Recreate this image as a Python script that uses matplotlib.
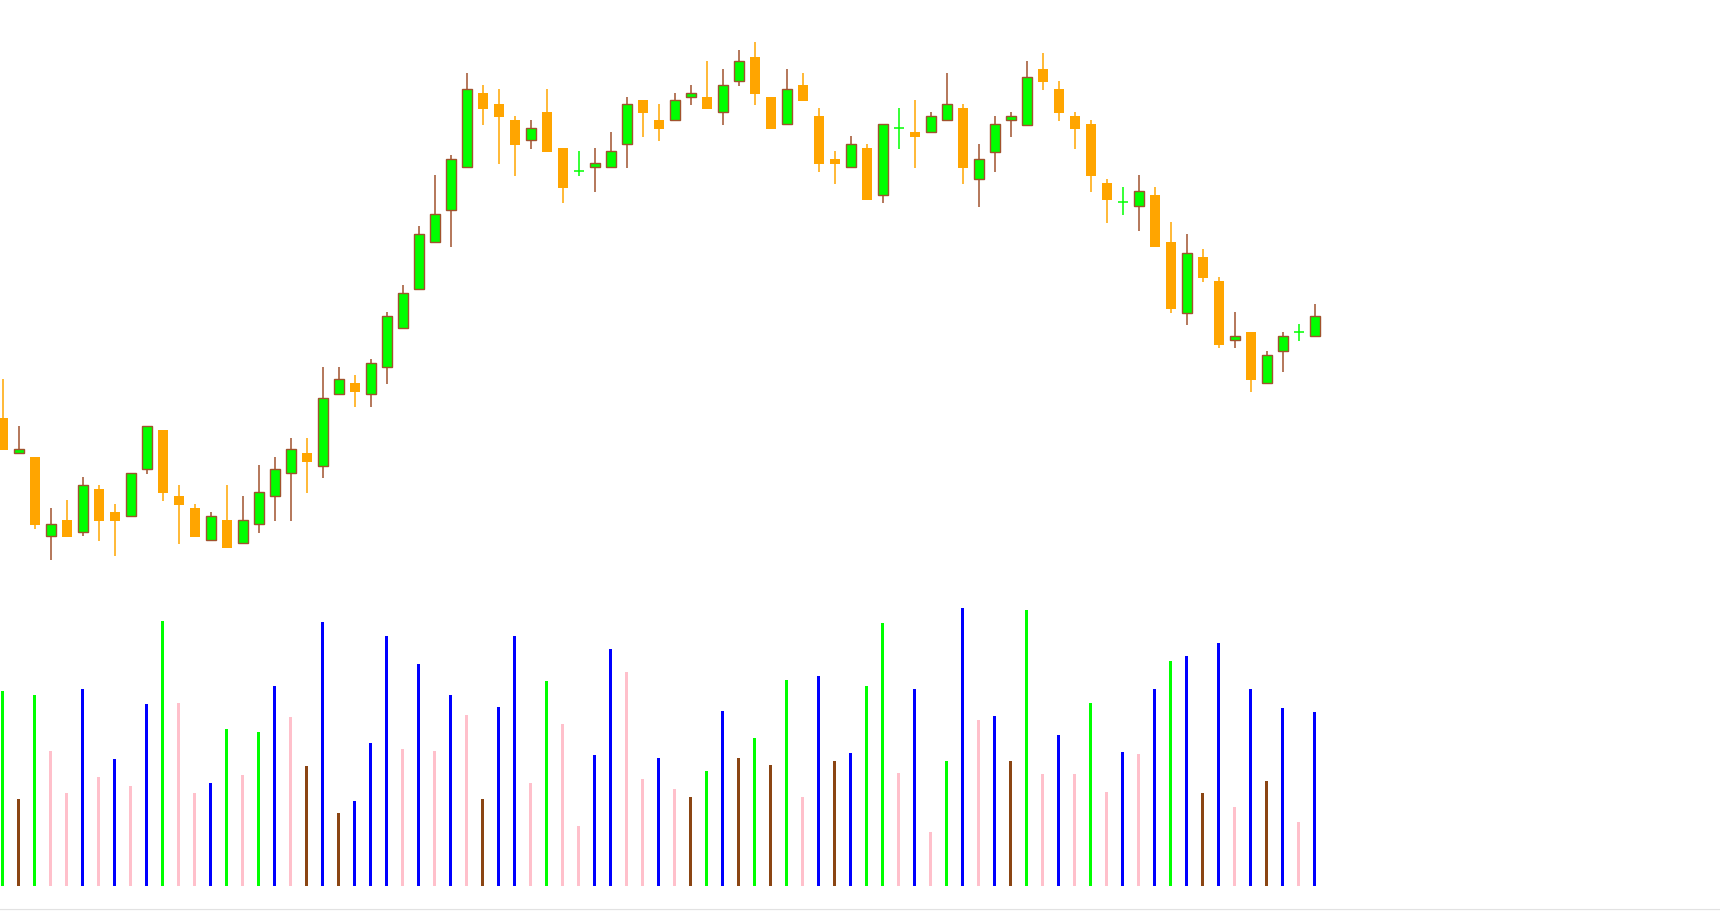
import matplotlib
matplotlib.use("Agg")
import matplotlib.pyplot as plt
from matplotlib.patches import Rectangle
from matplotlib.lines import Line2D

# ---- data (price units are arbitrary; no axis is shown) ----
opens = [181, 145.7, 142, 62.7, 79, 66.7, 110, 87, 82.7, 129.7,
         169, 103, 91, 58.7, 79, 55.7, 74.7, 102.7, 125.7, 146,
         133.3, 204.7, 216, 204.7, 231.7, 270.7, 309.7, 356.7, 388.7, 431.7,
         506, 495, 479, 458.7, 487, 451, 427.7, 431.7, 431.7, 454.7,
         499, 479, 478.7, 501.7, 502, 486.7, 517.7, 542, 502, 474.7,
         514, 483, 440, 431.7, 451, 403.7, 470.7, 467, 466.7, 478.7,
         491, 419.7, 447.3, 478.7, 474.3, 530, 510, 483, 475, 416,
         396.7, 392.7, 404, 357, 286.3, 342, 318, 258.7, 267, 215.7,
         247.7, 266.7, 262.7]
highs = [220, 173, 142, 91, 99, 122, 114, 95, 125.7, 172.7,
         169, 114, 95, 87, 114, 103, 134, 142, 161, 161,
         232, 232, 224, 240, 287, 314, 373, 424, 443.7, 526,
         514, 510, 483, 479, 510, 451, 448, 451, 467, 502,
         499, 495, 506, 514, 538, 530, 549, 557, 502, 530,
         526, 491, 448, 463, 454.7, 474.7, 491, 499, 487, 526,
         495, 455, 483, 487, 538, 546, 518, 487, 479, 420,
         412, 424, 412, 377, 365, 350, 322, 287, 267, 248,
         267, 275, 295]
lows = [149.3, 145.7, 70.3, 39.3, 62.3, 62.7, 58.3, 43.3, 82.7, 125.3,
        98.3, 55.3, 62.3, 58.7, 51.3, 55.7, 66.3, 78, 78, 106,
        121.3, 204.7, 192.3, 192.3, 215.3, 270.7, 309.7, 356.7, 352.3, 431.7,
        474.3, 435.3, 423.3, 450.3, 447.3, 396.3, 423.3, 407.3, 431.7, 431.3,
        462.3, 458.3, 478.7, 494.3, 490.3, 474.3, 513.3, 494.3, 470.3, 474.7,
        498.3, 427.3, 415.3, 431.7, 399.3, 396.3, 450.3, 431.3, 466.7, 478.7,
        415.3, 392.3, 427.3, 462.3, 474.3, 509.3, 478.3, 450.3, 407.3, 376.3,
        384.3, 368.3, 352.3, 286.3, 274.3, 317.3, 251.3, 251.3, 207.3, 215.7,
        227.3, 258.3, 262.7]
closes = [149.3, 149.7, 74.3, 75, 62.3, 113.7, 78.3, 78.3, 125.7, 172.7,
          106.3, 94.3, 62.3, 82.7, 51.3, 78.7, 106.7, 129.7, 149.7, 137.3,
          200.7, 219.7, 207.3, 235.7, 282.7, 305.7, 364.7, 384.7, 439.7, 509.7,
          490.3, 482.3, 454.3, 470.7, 447.3, 411.3, 427.7, 435.7, 447.7, 494.7,
          486.3, 470.3, 499, 505.7, 490.3, 513.7, 537.7, 505.3, 470.3, 509.7,
          498.3, 435.3, 435.3, 454.7, 399.3, 474.7, 470.7, 462.3, 482.7, 494.7,
          431.3, 439.7, 474.7, 482.7, 521.7, 517.3, 486.3, 470.3, 423.3, 399.3,
          396.7, 407.7, 352.3, 290.3, 345.7, 321.3, 254.3, 262.7, 219.3, 243.7,
          262.7, 266.7, 282.7]

volumes = [195, 87, 191, 135, 93, 197, 109, 127, 100, 182,
           265, 183, 93, 103, 157, 111, 154, 200, 169, 120,
           264, 73, 85, 143, 250, 137, 222, 135, 191, 171,
           87, 179, 250, 103, 205, 162, 60, 131, 237, 214,
           107, 128, 97, 89, 115, 175, 128, 148, 121, 206,
           89, 210, 125, 133, 200, 263, 113, 197, 54, 125,
           278, 166, 170, 125, 276, 112, 151, 112, 183, 94,
           134, 132, 197, 225, 230, 93, 243, 79, 197, 105,
           178, 64, 174]
volume_kind = ["G", "Br", "G", "P", "P", "B", "P", "B", "P", "B",
               "G", "P", "P", "B", "G", "P", "G", "B", "P", "Br",
               "B", "Br", "B", "B", "B", "P", "B", "P", "B", "P",
               "Br", "B", "B", "P", "G", "P", "P", "B", "B", "P",
               "P", "B", "P", "Br", "G", "B", "Br", "G", "Br", "G",
               "P", "B", "Br", "B", "G", "G", "P", "B", "P", "G",
               "B", "P", "B", "Br", "G", "P", "B", "P", "G", "P",
               "B", "P", "B", "G", "B", "Br", "B", "P", "B", "Br",
               "B", "P", "B"]
volume_colors = {"G": "#00FF00", "Br": "#8B4513", "P": "#FFC0CB", "B": "#0000FF"}

BULL = "#00FF00"
BEAR = "#FFA500"
EDGE = "#A0522D"

W, H, DPI = 1720, 912, 100
fig = plt.figure(figsize=(W / DPI, H / DPI), dpi=DPI)
fig.patch.set_facecolor("white")

spacing = 16.0
x0 = 2.7
xl = (-x0 / spacing, (W - x0) / spacing)

# price panel: figure pixel rows 0..600
ax = fig.add_axes([0, (H - 600) / H, 1, 600 / H])
ax.set_xlim(*xl)
ax.set_ylim(0, 600)
ax.axis("off")

bw = 10.3 / spacing
for i in range(len(opens)):
    o, h, l, c = opens[i], highs[i], lows[i], closes[i]
    if abs(c - o) < 1e-9:
        ax.plot([i, i], [l, h], color=BULL, lw=1.1, solid_capstyle="butt", zorder=2)
        ax.plot([i - bw / 2, i + bw / 2], [o, o], color=BULL, lw=1.1,
                solid_capstyle="butt", zorder=3)
    elif c > o:
        ax.plot([i, i], [l, h], color=EDGE, lw=1.1, solid_capstyle="butt", zorder=2)
        ax.add_patch(Rectangle((i - bw / 2, o), bw, c - o, facecolor=BULL,
                               edgecolor=EDGE, linewidth=1.0, zorder=3))
    else:
        ax.plot([i, i], [l, h], color=BEAR, lw=1.1, solid_capstyle="butt", zorder=2)
        ax.add_patch(Rectangle((i - bw / 2, c), bw + 0.04, o - c, facecolor=BEAR,
                               edgecolor="none", linewidth=0, zorder=3))

# volume panel: figure pixel rows 600..886.7
vbot = 886.7
axv = fig.add_axes([0, (H - vbot) / H, 1, (vbot - 600) / H])
axv.set_xlim(*xl)
axv.set_ylim(0, vbot - 600)
axv.axis("off")
axv.bar(range(len(volumes)), volumes, width=2.7 / spacing,
        color=[volume_colors[k] for k in volume_kind], linewidth=0)

# thin light grey lines along the bottom edge
for yy in (909.5, 911.5):
    fig.add_artist(Line2D([0, 1], [(H - yy) / H] * 2, color="#e2e2e2", lw=0.8,
                          transform=fig.transFigure))

fig.savefig("out.png", dpi=DPI, facecolor="white")
